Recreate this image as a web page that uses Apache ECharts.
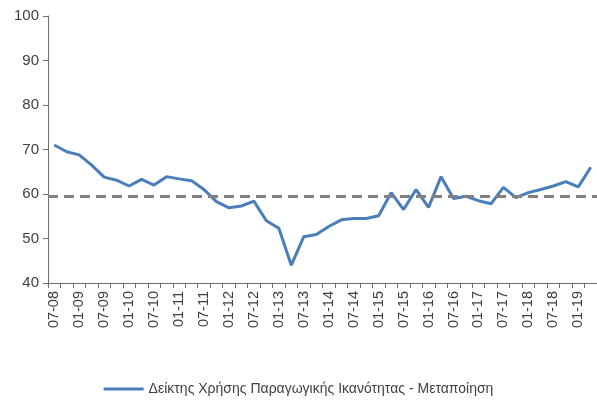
<!DOCTYPE html>
<html>
<head>
<meta charset="utf-8">
<script src="https://cdn.jsdelivr.net/npm/echarts@6/dist/echarts.min.js"></script>
<style>
  html, body { margin: 0; padding: 0; background: #fff; }
  #myChart { width: 597px; height: 403px; }
</style>
</head>
<body>
<div id="myChart"></div>
<script>
// quarters, 07-08 .. 04-19
var categories = [
  '07-08','10-08','01-09','04-09','07-09','10-09','01-10','04-10','07-10','10-10',
  '01-11','04-11','07-11','10-11','01-12','04-12','07-12','10-12','01-13','04-13',
  '07-13','10-13','01-14','04-14','07-14','10-14','01-15','04-15','07-15','10-15',
  '01-16','04-16','07-16','10-16','01-17','04-17','07-17','10-17','01-18','04-18',
  '07-18','10-18','01-19','04-19'
];
var capacityUse = [
  71.0, 69.5, 68.8, 66.5, 63.8, 63.1, 61.8, 63.3, 62.0, 63.9,
  63.4, 63.0, 61.0, 58.3, 56.9, 57.3, 58.4, 54.0, 52.3, 44.0,
  50.4, 50.9, 52.7, 54.2, 54.5, 54.5, 55.1, 60.3, 56.5, 61.0,
  57.0, 63.9, 59.0, 59.5, 58.5, 57.8, 61.5, 59.2, 60.3, 61.0,
  61.8, 62.8, 61.6, 66.0
];
var longTermAvg = 59.4;
var seriesName = 'Δείκτης Χρήσης Παραγωγικής Ικανότητας - Μεταποίηση';

var myChart = echarts.init(document.getElementById('myChart'));
var option = {
  backgroundColor: '#fff',
  animation: false,
  textStyle: { fontFamily: 'Liberation Sans, Arial, sans-serif' },
  grid: { left: 48, right: 0, top: 16, bottom: 120 },
  legend: {
    data: [seriesName],
    bottom: 2,
    left: 'center',
    itemWidth: 40,
    itemHeight: 3,
    itemGap: 2,
    icon: 'rect',
    textStyle: { color: '#404040', fontSize: 14 }
  },
  xAxis: {
    type: 'category',
    data: categories,
    boundaryGap: true,
    axisLine: { lineStyle: { color: '#6e6e6e', width: 1 } },
    axisTick: { show: true, interval: 0, length: 5, lineStyle: { color: '#6e6e6e' } },
    axisLabel: {
      interval: 1,
      rotate: 90,
      color: '#404040',
      fontSize: 14.5,
      margin: 8
    },
    splitLine: { show: false }
  },
  yAxis: {
    type: 'value',
    min: 40,
    max: 100,
    interval: 10,
    axisLine: { show: true, lineStyle: { color: '#6e6e6e', width: 1 } },
    axisTick: { show: true, length: 5, lineStyle: { color: '#6e6e6e' } },
    axisLabel: { color: '#404040', fontSize: 15, margin: 9 },
    splitLine: { show: false }
  },
  series: [{
    name: seriesName,
    type: 'line',
    data: capacityUse,
    symbol: 'none',
    smooth: false,
    lineStyle: { color: '#4a7ebb', width: 3 },
    itemStyle: { color: '#4a7ebb' },
    markLine: {
      silent: true,
      symbol: 'none',
      label: { show: false },
      lineStyle: { color: '#808080', width: 3, type: [10, 6] },
      data: [{ yAxis: longTermAvg }]
    }
  }]
};
myChart.setOption(option);
</script>
</body>
</html>
